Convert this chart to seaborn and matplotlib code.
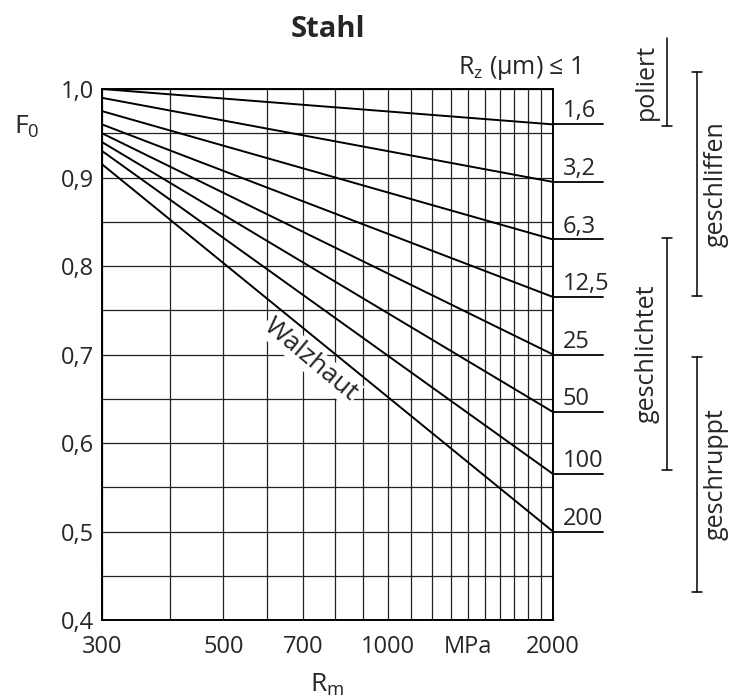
import pandas as pd
import matplotlib.pyplot as plt
import seaborn as sns
from matplotlib.ticker import NullFormatter

# roughness classes (Rz in um) and F0 read off at Rm = 300 and Rm = 2000 MPa
rz_labels = ["1,6", "3,2", "6,3", "12,5", "25", "50", "100", "200"]
f0_at_300 = [1.0, 0.99, 0.975, 0.96, 0.95, 0.94, 0.93, 0.915]
f0_at_2000 = [0.96, 0.895, 0.83, 0.765, 0.70, 0.635, 0.565, 0.50]
rm_ends = [300, 2000]

x_tick_vals = [300, 500, 700, 1000, 1400, 2000]
x_tick_labels = ["300", "500", "700", "1000", "MPa", "2000"]
y_tick_vals = [0.4, 0.5, 0.6, 0.7, 0.8, 0.9, 1.0]
y_tick_labels = ["0,4", "0,5", "0,6", "0,7", "0,8", "0,9", "1,0"]

# surface finish ranges on the right (F0 span of each bracket)
finish_names = ["poliert", "geschliffen", "geschlichtet", "geschruppt"]
finish_top = [1.058, 1.019, 0.832, 0.697]
finish_bottom = [0.958, 0.766, 0.569, 0.432]

rows = []
for lab, y0, y1 in zip(rz_labels, f0_at_300, f0_at_2000):
    rows.append({"Rm": rm_ends[0], "F0": y0, "Rz": lab})
    rows.append({"Rm": rm_ends[1], "F0": y1, "Rz": lab})
df = pd.DataFrame(rows)

sns.set_style("white")
plt.rcParams['font.family'] = ['Open Sans', 'DejaVu Sans']
plt.rcParams['mathtext.fontset'] = 'custom'
plt.rcParams['mathtext.rm'] = 'Open Sans'
plt.rcParams['mathtext.it'] = 'Open Sans:italic'

fig = plt.figure(figsize=(7.32, 6.98), dpi=100)
ax = fig.add_axes([102 / 732, 1 - 620 / 698, 451 / 732, 531 / 698])

ax.set_xscale('log')
sns.lineplot(data=df, x="Rm", y="F0", hue="Rz", palette=["black"] * len(rz_labels),
             legend=False, linewidth=1.4, ax=ax)
ax.set_xlim(300, 2000)
ax.set_ylim(0.4, 1.0)

# grid: every 100 MPa, every 0.05
ax.set_xticks(x_tick_vals)
ax.set_xticklabels(x_tick_labels)
ax.set_xticks([v for v in range(300, 2001, 100) if v not in x_tick_vals], minor=True)
ax.xaxis.set_minor_formatter(NullFormatter())
ax.set_yticks(y_tick_vals)
ax.set_yticklabels(y_tick_labels)
ax.set_yticks([0.45, 0.55, 0.65, 0.75, 0.85, 0.95], minor=True)
ax.grid(which='both', color='#222222', linewidth=0.9)
ax.tick_params(which='both', length=0, labelsize=17)
ax.tick_params(axis='x', pad=11)
ax.tick_params(axis='y', pad=6)
for s in ax.spines.values():
    s.set_color('black')
    s.set_linewidth(1.4)

ax.set_xlabel(r"R$_\mathregular{m}$", fontsize=19, labelpad=9)
ax.set_ylabel("")

tr = ax.get_yaxis_transform()
ax.text(-0.166, 0.957, r"F$_\mathregular{0}$", transform=tr, fontsize=19, ha='center', va='center')
ax.text(0.5, 1.112, "Stahl", transform=ax.transAxes, fontsize=21, fontweight='bold',
        ha='center', va='center')
ax.text(1.062, 1.024, r"R$_\mathregular{z}$ (µm) ≤ 1", transform=tr, fontsize=18,
        ha='right', va='center')

# horizontal run-outs beyond 2000 MPa with the Rz labels
for lab, y1 in zip(rz_labels, f0_at_2000):
    ax.plot([1.0, 1.111], [y1, y1], transform=tr, color='black', lw=1.3, clip_on=False)
    ax.annotate(lab, xy=(1.022, y1), xycoords=tr, xytext=(0, 5), textcoords='offset points',
                fontsize=17, ha='left', va='baseline')

ax.text(722, 0.694, "Walzhaut", fontsize=19, rotation=-40, ha='center', va='center',
        rotation_mode='anchor', zorder=1.8,
        bbox=dict(facecolor='white', edgecolor='none', pad=1))

# brackets for the machining classes
bx = [1.253, 1.319, 1.253, 1.319]
tx = [1.208, 1.362, 1.208, 1.362]
caps_top = [False, True, True, True]
cap = 0.011
for name, top, bot, x, t, ct in zip(finish_names, finish_top, finish_bottom, bx, tx, caps_top):
    ax.plot([x, x], [top, bot], transform=tr, color='black', lw=1.1, clip_on=False)
    ax.plot([x - cap, x + cap], [bot, bot], transform=tr, color='black', lw=1.1, clip_on=False)
    if ct:
        ax.plot([x - cap, x + cap], [top, top], transform=tr, color='black', lw=1.1, clip_on=False)
    ax.text(t, (top + bot) / 2, name, transform=tr, fontsize=18, rotation=90,
            ha='center', va='center')

fig.savefig("out.png", dpi=100)
